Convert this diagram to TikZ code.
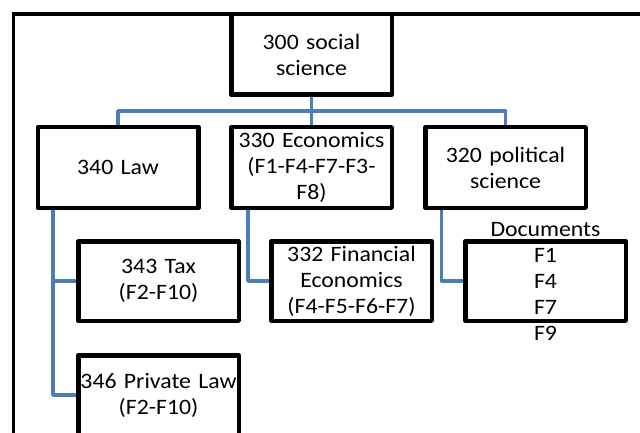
\documentclass[tikz,border=0pt]{standalone}
\usepackage{fontspec}
\setmainfont{Carlito}[FakeStretch=1.08]
\definecolor{connblue}{RGB}{74,126,187}
\tikzset{
  box/.style={draw=black, line width=4.5pt, fill=white, line join=round,
    minimum width=160.5pt, minimum height=80.5pt, inner sep=0pt,
    text width=160pt, align=center, font=\fontsize{22}{26}\selectfont},
  txt/.style={inner sep=0pt, text width=160pt, align=center, font=\fontsize{22}{26}\selectfont},
  conn/.style={draw=connblue, line width=3.5pt, line join=round},
  frame/.style={draw=black, line width=3.5pt}
}
\begin{document}
\begin{tikzpicture}[x=1pt,y=-1pt]
\useasboundingbox (0,0) rectangle (640,433);
\draw[frame] (13.5,440) -- (13.5,14) -- (645,14);
\coordinate (busL) at (118,111);
\coordinate (busR) at (505.5,111);
\coordinate (lawx) at (53,0);
\coordinate (ecox) at (248,0);
\coordinate (polx) at (441.5,0);
\node[box] (root) at (311.5,54.5) {300 social\\science};
\node[box] (law) at (118,167.5) {340 Law};
\node[box] (econ) at (311.5,167.5) {330 Economics\\(F1-F4-F7-F3-\\F8)};
\node[box] (pol) at (505.5,167.5) {320 political\\science};
\node[box, minimum height=79.5pt] (tax) at (158.5,281) {343 Tax\\(F2-F10)};
\node[box, minimum height=79.5pt] (fin) at (351.5,281) {332 Financial\\Economics\\(F4-F5-F6-F7)};
\node[box, minimum height=79.5pt] (docs) at (545.5,281) {};
\node[txt] (docstxt) at (docs.center) {Documents\\F1\\F4\\F7\\F9};
\node[box, minimum height=79.5pt] (priv) at (158.5,395) {346 Private Law\\(F2-F10)};
\draw[conn] (root.south) -- (root.south |- busL);
\draw[conn] (law.north) -- (busL) -- (busR) -- (pol.north);
\draw[conn] (econ.north) -- (econ.north |- busL);
\draw[conn] (law.south -| lawx) -- (lawx |- priv.west) -- (priv.west);
\draw[conn] (lawx |- tax.west) -- (tax.west);
\draw[conn] (econ.south -| ecox) |- (fin.west);
\draw[conn] (pol.south -| polx) |- (docs.west);
\end{tikzpicture}
\end{document}
